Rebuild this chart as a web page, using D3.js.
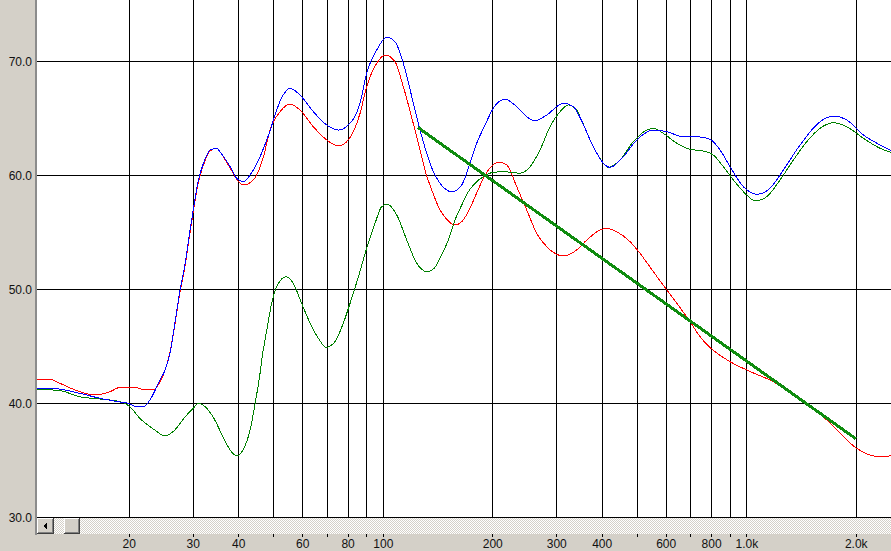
<!DOCTYPE html>
<html><head><meta charset="utf-8">
<script src="https://cdn.jsdelivr.net/npm/d3@7/dist/d3.min.js"></script>
<style>html,body{margin:0;padding:0;background:#d4d0c8;overflow:hidden}</style>
</head><body><svg id="c" width="891" height="551"></svg>
<script>
// ---- data ----
const yTicks = [30, 40, 50, 60, 70];
const gridFreqs = [20,30,40,50,60,70,80,90,100,200,300,400,500,600,700,800,900,1000,2000];
const labelFreqs = [20,30,40,60,80,100,200,300,400,600,800,1000,2000];

const blueF = [11.15,12.5,14.6,16.6,18.9,20.0,20.7,22.0,22.8,24.3,25.1,25.9,26.7,27.6,28.5,29.4,30.0,31.0,32.0,33.4,34.8,35.5,37.9,39.5,41.2,43.0,45.8,47.8,53.0,55.4,59.0,64.2,69.9,75.2,80.1,86.3,90.0,95.9,102.2,107.7,113.5,122.2,126.2,131.6,137.3,143.2,154.3,164.3,171.3,180.7,190.5,200.7,216.2,232.8,248.0,261.5,281.5,312.8,333.3,347.6,378.2,403.0,420.4,457.3,498.0,553.3,602.2,669.1,728.2,792.2,844.1,899.2,978.2,1065,1158,1260,1401,1590,1730,1883,2092,2325,2493];
const blueV = [41.28,41.28,40.88,40.44,40.11,39.98,39.74,39.74,40.29,42.04,42.92,44.39,47.02,49.94,52.28,55.2,56.96,59.59,61.05,62.22,62.37,62.07,60.75,59.74,59.44,60.03,61.63,63.10,67.04,67.63,67.04,65.58,64.41,63.97,64.41,66.34,68.97,70.99,72.11,71.72,69.82,65.73,63.97,61.93,60.32,59.3,58.56,59.15,60.61,62.81,64.41,65.88,66.67,66.02,65.14,64.79,65.29,66.32,66.02,65.07,62.51,61.05,60.70,61.63,63.10,63.97,63.82,63.39,63.39,63.16,62.22,60.75,59.0,58.33,58.86,60.46,62.66,64.7,65.2,64.85,63.54,62.66,62.16];

const redF = [11.15,12.1,12.9,14.6,16.1,17.7,18.9,20.7,22.1,23.5,24.3,24.8,25.9,26.7,27.6,28.5,29.4,30.0,31.0,32.0,33.4,34.8,35.5,37.9,39.6,41.2,43.9,46.8,48.8,52.0,55.4,59.0,64.2,69.9,75.2,80.1,86.3,90.0,95.9,101.1,107.7,113.5,122.2,126.2,130.2,135.9,143.2,147.8,157.5,164.3,171.3,178.8,186.6,194.5,207.3,218.6,232.8,248.0,264.2,281.5,312.8,340.4,362.7,394.6,411.8,438.6,477.2,499.9,553.3,602.2,641.7,698.1,743.6,797.2,899.2,999.4,1183,1315,1462,1659,2006,2183,2325,2493];
const redV = [42.11,42.11,41.75,41.02,40.73,41.02,41.40,41.40,41.17,41.23,41.9,42.48,44.5,46.9,49.8,52.1,55.0,56.8,59.4,60.9,62.15,62.37,62.07,60.64,59.6,59.15,59.59,61.63,63.97,65.58,66.25,65.73,64.26,63.10,62.57,63.10,65.44,67.77,69.82,70.55,69.96,67.77,63.97,62.22,60.46,58.71,56.96,56.32,55.64,55.93,56.81,58.12,59.44,60.46,61.14,60.9,59.0,56.96,54.91,53.74,52.92,53.45,54.32,55.2,55.35,55.05,54.18,53.45,51.54,49.94,48.77,47.16,45.84,44.82,43.65,42.92,41.89,41.02,40.0,38.54,36.05,35.46,35.32,35.4];

const greenF = [11.15,12.9,14.6,16.6,18.9,20.0,21.4,23.5,25.1,26.4,28.5,30.0,30.9,31.9,34.0,36.2,37.9,39.6,41.1,43.0,44.4,45.8,46.3,47.8,49.3,50.9,54.0,56.5,59.6,62.9,66.3,69.6,73.6,77.6,81.0,85.4,90.0,94.9,99.0,102.6,108.9,116.0,123.6,132.1,138.5,143.2,150.9,157.5,164.3,171.3,178.8,188.4,198.7,213.7,227.9,237.7,253.2,269.8,287.4,306.3,322.9,340.4,347.6,378.2,403.0,415.9,447.9,487.3,530.6,553.3,589.4,641.7,698.1,759.2,808.9,861.8,918.3,999.4,1054,1134,1234,1343,1462,1590,1730,1883,2092,2325,2493];
const greenV = [41.23,41.11,40.58,40.38,40.14,39.76,38.68,37.66,37.13,37.51,38.82,39.56,40.0,39.85,38.82,37.07,35.9,35.38,35.9,37.66,40.0,42.63,43.8,46.43,48.77,50.23,51.1,50.53,48.77,47.02,45.7,44.91,45.4,47.02,48.77,51.1,53.6,55.79,57.25,57.46,56.52,54.32,52.28,51.54,51.9,52.72,54.32,56.08,57.39,58.56,59.3,59.88,60.23,60.32,60.23,60.18,60.75,62.22,64.26,65.58,66.17,65.73,65.14,62.51,61.05,60.70,61.34,62.95,63.97,64.12,63.68,62.81,62.28,62.13,61.78,60.75,59.59,58.27,57.75,58.12,59.59,61.34,62.95,64.12,64.61,64.26,63.25,62.37,62.02];

const trendF = [124.4, 1993];
const trendV = [64.2, 36.9];

// ---- drawing ----
const svg = d3.select("#c");
const L = 37, R = 891;
const x = d3.scaleLog().domain([10, 2500]).range([19.8, 891.5]);
const y = d3.scaleLinear().domain([30, 70]).range([517.3, 61.3]);
const px = v => Math.floor(v) + 0.5;

svg.append("rect").attr("width", 891).attr("height", 551).attr("fill", "#d4d0c8");
svg.append("rect").attr("x", L).attr("y", 0).attr("width", R - L).attr("height", 518).attr("fill", "#fff");

const defs = svg.append("defs");
const pat = defs.append("pattern").attr("id", "hatch").attr("width", 2).attr("height", 2).attr("patternUnits", "userSpaceOnUse");
pat.append("rect").attr("width", 2).attr("height", 2).attr("fill", "#ffffff");
pat.append("rect").attr("width", 1).attr("height", 1).attr("fill", "#d4d0c8");
pat.append("rect").attr("x", 1).attr("y", 1).attr("width", 1).attr("height", 1).attr("fill", "#d4d0c8");
defs.append("clipPath").attr("id", "clip").append("rect").attr("x", L).attr("y", 0).attr("width", R - L).attr("height", 518);

// grid
const g = svg.append("g").attr("shape-rendering", "crispEdges");
g.selectAll(".vg").data(gridFreqs).join("line")
  .attr("x1", d => px(x(d))).attr("x2", d => px(x(d)))
  .attr("y1", 0).attr("y2", 518).attr("stroke", "#000");
g.selectAll(".hg").data(yTicks).join("line")
  .attr("x1", L).attr("x2", R)
  .attr("y1", d => px(y(d))).attr("y2", d => px(y(d))).attr("stroke", "#000");

// left border
svg.append("rect").attr("x", 35).attr("y", 0).attr("width", 2).attr("height", 535).attr("fill", "#8c8c8c");

// scrollbar
svg.append("rect").attr("x", L).attr("y", 518).attr("width", R - L).attr("height", 16).attr("fill", "url(#hatch)");
function btn(x0, w) {
  const b = svg.append("g").attr("shape-rendering", "crispEdges");
  b.append("rect").attr("x", x0).attr("y", 518).attr("width", w).attr("height", 16).attr("fill", "#404040");
  b.append("rect").attr("x", x0).attr("y", 518).attr("width", w - 1).attr("height", 15).attr("fill", "#ffffff");
  b.append("rect").attr("x", x0 + 1).attr("y", 519).attr("width", w - 2).attr("height", 14).attr("fill", "#808080");
  b.append("rect").attr("x", x0 + 1).attr("y", 519).attr("width", w - 3).attr("height", 13).attr("fill", "#d4d0c8");
}
btn(37, 17);
btn(64, 16);
svg.append("path").attr("d", "M43,526 L47,522 L47,530 Z").attr("fill", "#000").attr("shape-rendering", "crispEdges");

// bottom ticks
svg.append("g").attr("shape-rendering", "crispEdges").selectAll("line").data(gridFreqs).join("line")
  .attr("x1", d => px(x(d))).attr("x2", d => px(x(d)))
  .attr("y1", 534).attr("y2", 537).attr("stroke", "#000");

// labels
const fmt = d => d >= 1000 ? (d / 1000).toFixed(1) + "k" : String(d);
svg.append("g").selectAll("text").data(labelFreqs).join("text")
  .attr("x", d => x(d)).attr("y", 548).attr("text-anchor", "middle")
  .attr("font-family", "Liberation Sans, Arial, sans-serif").attr("font-size", 12).attr("fill", "#111")
  .text(fmt);
svg.append("g").selectAll("text").data(yTicks).join("text")
  .attr("x", 32).attr("y", d => y(d) + 4.5).attr("text-anchor", "end")
  .attr("font-family", "Liberation Sans, Arial, sans-serif").attr("font-size", 12).attr("fill", "#111")
  .text(d => d.toFixed(1));

// curves
const plot = svg.append("g").attr("clip-path", "url(#clip)");
function curve(F, V, color, w) {
  const pts = F.map((f, i) => [f, V[i]]);
  plot.append("path").datum(pts)
    .attr("d", d3.line().x(d => x(d[0])).y(d => y(d[1])).curve(d3.curveMonotoneX))
    .attr("fill", "none").attr("stroke", color).attr("stroke-width", w)
    .attr("shape-rendering", "crispEdges");
}
curve(redF, redV, "#ff0000", 1);
curve(greenF, greenV, "#008000", 1);
curve(blueF, blueV, "#0000ff", 1);
curve(trendF, trendV, "#0f8c0f", 3);
</script></body></html>
